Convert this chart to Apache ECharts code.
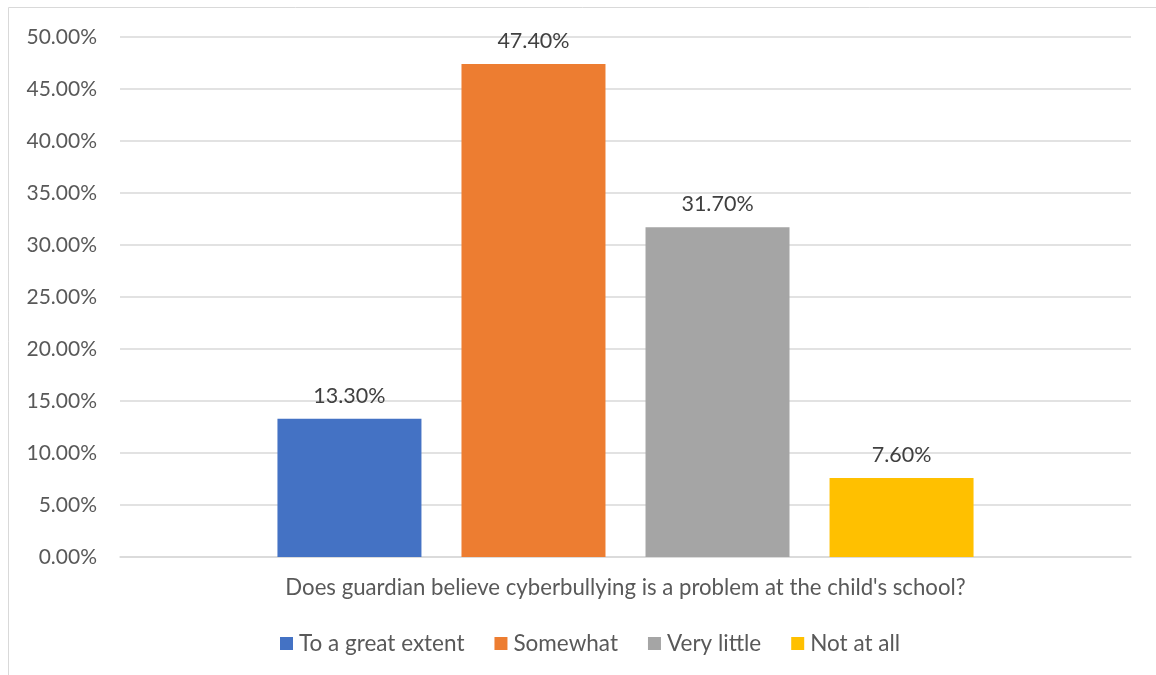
<!DOCTYPE html>
<html><head><meta charset="utf-8">
<script src="https://cdn.jsdelivr.net/npm/echarts@6/dist/echarts.min.js"></script>
<style>html,body{margin:0;padding:0;background:#fff}#c{width:1156px;height:675px}</style>
</head><body><div id="c"></div>
<script>
const categories = [''];
const seriesNames = ['To a great extent', 'Somewhat', 'Very little', 'Not at all'];
const seriesValues = [13.3, 47.4, 31.7, 7.6];
const seriesColors = ['#4472c4', '#ed7d31', '#a5a5a5', '#ffc000'];
const axisTitle = "Does guardian believe cyberbullying is a problem at the child's school?";
const FONT = 'Lato, "Open Sans", sans-serif';

const chart = echarts.init(document.getElementById('c'), null, {renderer: 'canvas'});
chart.setOption({
  animation: false,
  textStyle: {fontFamily: FONT},
  graphic: [{type: 'rect', shape: {x: 8.5, y: 7.5, width: 1200, height: 700}, style: {fill: 'none', stroke: '#d9d9d9', lineWidth: 1}, silent: true}],
  grid: {left: 120, right: 25, top: 37, bottom: 118, containLabel: false},
  legend: {
    top: 627, left: 275, itemWidth: 13, itemHeight: 13, itemGap: 30,
    icon: 'rect',
    textStyle: {fontSize: 22.5, color: '#595959', fontFamily: FONT, padding: [0, 0, 0, 1]},
    data: seriesNames
  },
  xAxis: {
    type: 'category', data: categories,
    name: axisTitle, nameLocation: 'middle', nameGap: 20,
    nameTextStyle: {fontSize: 22.2, color: '#595959', fontFamily: FONT},
    axisLine: {lineStyle: {color: '#d9d9d9', width: 1.5}},
    axisTick: {show: false}, axisLabel: {show: false}
  },
  yAxis: {
    type: 'value', min: 0, max: 50, interval: 5,
    axisLine: {show: false}, axisTick: {show: false},
    splitLine: {lineStyle: {color: '#d9d9d9', width: 1.5}},
    axisLabel: {formatter: v => v.toFixed(2) + '%', fontSize: 21, color: '#595959', margin: 23, fontFamily: FONT}
  },
  series: seriesNames.map((n, i) => ({
    name: n, type: 'bar', barWidth: 144, barGap: '27.8%',
    itemStyle: {color: seriesColors[i]},
    label: {show: true, position: 'top', distance: 12, formatter: p => p.value.toFixed(2) + '%', fontSize: 21.5, color: '#404040', fontFamily: FONT},
    data: [seriesValues[i]]
  }))
});
</script></body></html>
